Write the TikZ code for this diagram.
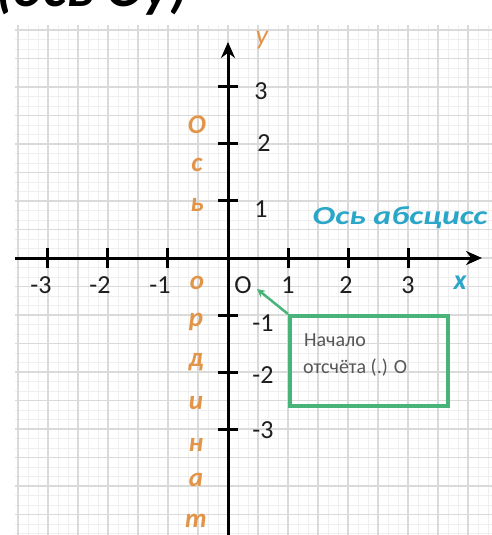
\documentclass[tikz,border=0pt]{standalone}
\usepackage{fontspec}
\usepackage{graphicx}
\setmainfont{Carlito}
\usetikzlibrary{arrows.meta}
\definecolor{gridmaj}{RGB}{218,218,218}
\definecolor{gridmin}{RGB}{239,239,239}
\definecolor{ordorange}{RGB}{226,148,72}
\definecolor{absblue}{RGB}{42,166,200}
\definecolor{boxgreen}{RGB}{72,180,122}
\definecolor{numgray}{RGB}{30,30,30}
\tikzset{
  axisline/.style={line width=3pt, black, -{Stealth[length=16pt,width=14pt]}},
  tickmark/.style={line width=3pt, black},
  numlabel/.style={font=\fontsize{26}{28}\selectfont, text=numgray, inner sep=0pt},
  ordletter/.style={font=\fontsize{27}{29}\selectfont\bfseries\itshape, text=ordorange, inner sep=0pt},
  axisname/.style={font=\fontsize{26}{28}\selectfont\bfseries\itshape, inner sep=0pt},
  notebox/.style={draw=boxgreen, line width=4pt, minimum width=158pt, minimum height=90pt, inner sep=0pt},
  notetext/.style={font=\fontsize{20}{22}\selectfont, text=numgray!75, inner sep=0pt, anchor=west},
  pointer/.style={draw=boxgreen, line width=2.5pt, -{Stealth[length=8pt,width=8pt]}}
}
\begin{document}
\begin{tikzpicture}[x=1pt,y=-1pt]
\clip (0,0) rectangle (492,535);
\fill[white] (0,0) rectangle (492,535);
% cropped heading
\node[anchor=base west, inner sep=0pt, font=\fontsize{56}{60}\selectfont\bfseries\itshape] (head) at (-4,7) {(ось Оу)};
% grid
\foreach \i in {0,...,47} \draw[gridmin, line width=0.8pt] ({18+10*\i},25) -- ({18+10*\i},535);
\foreach \j in {0,...,53} \draw[gridmin, line width=0.8pt] (15,{30+9.5*\j}) -- (492,{30+9.5*\j});
\foreach \i in {0,...,15} \draw[gridmaj, line width=1.4pt] ({18+30*\i},25) -- ({18+30*\i},535);
\foreach \j in {0,...,17} \draw[gridmaj, line width=1.4pt] (15,{30+28.5*\j}) -- (492,{30+28.5*\j});
% axes
\coordinate (O) at (228,258);
\coordinate (xs) at (15,258);
\coordinate (xe) at (482,258);
\coordinate (ys) at (228,540);
\coordinate (ye) at (228,42);
\draw[axisline] (xs) -- (xe);
\draw[axisline] (ys) -- (ye);
% ticks
\foreach \k in {-3,-2,-1,1,2,3} {
  \draw[tickmark] ({228+60.3*\k},248) -- ({228+60.3*\k},268);
  \draw[tickmark] (218,{258-57.3*\k}) -- (238,{258-57.3*\k});
}
% x labels
\node[numlabel] (xm3) at (41,285) {-3};
\node[numlabel] (xm2) at (100,285) {-2};
\node[numlabel] (xm1) at (160,285) {-1};
\node[numlabel] (xp1) at (288,285) {1};
\node[numlabel] (xp2) at (346,285) {2};
\node[numlabel] (xp3) at (408,285) {3};
\node[numlabel] (olab) at (243,285) {O};
% y labels
\node[numlabel] (yp3) at (261,91) {3};
\node[numlabel] (yp2) at (264,143) {2};
\node[numlabel] (yp1) at (261,209) {1};
\node[numlabel] (ym1) at (263,323) {-1};
\node[numlabel] (ym2) at (263,375) {-2};
\node[numlabel] (ym3) at (263,430) {-3};
% axis names
\node[axisname, text=ordorange, font=\fontsize{28}{30}\selectfont\itshape] (ylab) at (262,40) {y};
\node[axisname, text=absblue, font=\fontsize{28}{30}\selectfont\bfseries\itshape] (xlab) at (460,283) {x};
\node[axisname, text=absblue] (absname) at (400,218) {\scalebox{1.3}[1]{Ось абсцисс}};
% vertical ordinate name
\node[ordletter] (l1) at (197,125) {О};
\node[ordletter] (l2) at (197,165) {с};
\node[ordletter] (l3) at (197,205) {ь};
\node[ordletter] (l4) at (197,283) {о};
\node[ordletter] (l5) at (196,322) {р};
\node[ordletter] (l6) at (196,362) {д};
\node[ordletter] (l7) at (196,403) {и};
\node[ordletter] (l8) at (196,445) {н};
\node[ordletter] (l9) at (196,480) {а};
\node[ordletter] (l10) at (196,521) {т};
% note box
\node[notebox] (note) at (369,361) {};
\node[notetext] (t1) at (304,340) {Начало};
\node[notetext] (t2) at (303,368) {отсчёта (.) О};
\coordinate (tip) at (257,289);
\draw[pointer] (note.north west) -- (tip);
\end{tikzpicture}
\end{document}
